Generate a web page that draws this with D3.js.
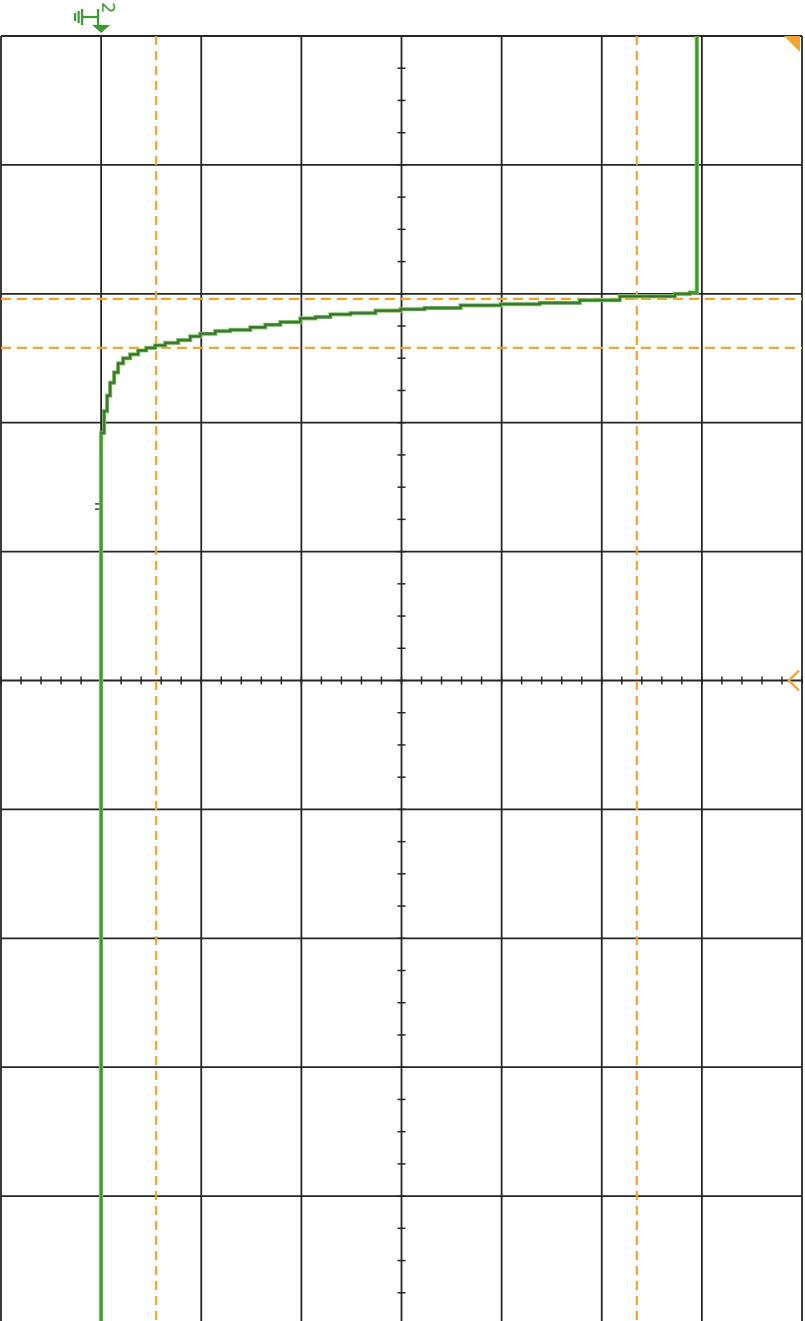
<!DOCTYPE html>
<html>
<head>
<meta charset="utf-8">
<script src="https://cdn.jsdelivr.net/npm/d3@7"></script>
<style>
  html, body { margin: 0; padding: 0; background: #fff; }
  svg { display: block; }
</style>
</head>
<body>
<svg id="scope" width="805" height="1321"></svg>
<script>
// Graticule: 8 horizontal divisions by 10 vertical divisions
const hDivs = d3.range(0, 9);
const vDivs = d3.range(0, 11);
// Minor ticks on the centre cross (in divisions)
const hMinor = d3.range(0, 8.001, 0.2);
const vMinor = d3.range(0, 10.001, 0.25);

// Channel 2 trace, [horizontal div, vertical div]
const traceX = [1.00, 1.00, 1.03, 1.06, 1.09, 1.13, 1.17, 1.22, 1.29, 1.37, 1.45, 1.54, 1.64, 1.77, 1.89, 1.99,
                2.14, 2.29, 2.49, 2.64, 2.79, 2.99, 3.14, 3.29, 3.49, 3.74, 3.99, 4.23, 4.59, 4.99, 5.38, 5.78,
                6.18, 6.53, 6.73, 6.88, 6.95, 6.95];
const traceY = [10.00, 3.08, 2.91, 2.79, 2.69, 2.61, 2.54, 2.50, 2.47, 2.44, 2.42, 2.40, 2.38, 2.36, 2.33, 2.31,
                2.29, 2.28, 2.26, 2.24, 2.22, 2.19, 2.18, 2.16, 2.15, 2.13, 2.12, 2.11, 2.09, 2.08, 2.07, 2.05,
                2.02, 2.02, 2.00, 1.99, 1.99, 0.00];

// Cursor positions (divisions)
const cursorsV = [1.55, 6.35];
const cursorsH = [2.04, 2.42];

// Channel marker
const channelLabel = "2";
const groundPos = 1.0;
const centreH = 4, centreV = 5;

const svg = d3.select("#scope");
const x = d3.scaleLinear().domain([0, 8]).range([1, 802]);
const y = d3.scaleLinear().domain([0, 10]).range([36, 1325]);

const gridColor = "#262626";
const orange = "#f2a330";
const green = "#3f9a36";

// grid lines
const grid = svg.append("g");
grid.selectAll("line.v").data(hDivs).join("line")
  .attr("x1", d => x(d)).attr("x2", d => x(d))
  .attr("y1", y(0)).attr("y2", y(10))
  .attr("stroke", gridColor).attr("stroke-width", 1.8);
grid.selectAll("line.h").data(vDivs).join("line")
  .attr("y1", d => y(d)).attr("y2", d => y(d))
  .attr("x1", x(0)).attr("x2", x(8))
  .attr("stroke", gridColor).attr("stroke-width", 1.8);

// minor ticks on centre axes
grid.selectAll("line.ht").data(hMinor).join("line")
  .attr("x1", d => x(d)).attr("x2", d => x(d))
  .attr("y1", y(centreV) - 4).attr("y2", y(centreV) + 4)
  .attr("stroke", gridColor).attr("stroke-width", 1.5);
grid.selectAll("line.vt").data(vMinor).join("line")
  .attr("y1", d => y(d)).attr("y2", d => y(d))
  .attr("x1", x(centreH) - 4).attr("x2", x(centreH) + 4)
  .attr("stroke", gridColor).attr("stroke-width", 1.5);

// cursors
const cur = svg.append("g");
cur.selectAll("line.cv").data(cursorsV).join("line")
  .attr("x1", d => x(d)).attr("x2", d => x(d))
  .attr("y1", y(0)).attr("y2", y(10))
  .attr("stroke", orange).attr("stroke-width", 2.2).attr("stroke-dasharray", "9,6");
cur.selectAll("line.ch").data(cursorsH).join("line")
  .attr("y1", d => y(d)).attr("y2", d => y(d))
  .attr("x1", x(0)).attr("x2", x(8))
  .attr("stroke", orange).attr("stroke-width", 2.2).attr("stroke-dasharray", "10,6");

// trace
const pts = traceX.map((v, i) => [v, traceY[i]]);
const line = d3.line().x(d => x(d[0])).y(d => y(d[1])).curve(d3.curveStepAfter);
svg.append("path").attr("d", line(pts)).attr("fill", "none")
  .attr("stroke", "#8fd060").attr("stroke-width", 4.2);
svg.append("path").attr("d", line(pts)).attr("fill", "none")
  .attr("stroke", green).attr("stroke-width", 2.8);
svg.append("path").attr("d", line(pts.slice(1, -2))).attr("fill", "none")
  .attr("stroke", "#4b5a48").attr("stroke-width", 1.2);

// small trigger mark next to the trace
svg.append("g").selectAll("line").data([3.63, 3.67]).join("line")
  .attr("x1", x(groundPos) - 6).attr("x2", x(groundPos) - 2)
  .attr("y1", d => y(d)).attr("y2", d => y(d))
  .attr("stroke", "#333").attr("stroke-width", 1.5);

// ground / channel marker above the graticule
const gx = x(groundPos);
const gridTop = y(0);
const mk = svg.append("g");
mk.append("path")
  .attr("d", `M${gx - 9},${gridTop - 11} L${gx + 9},${gridTop - 11} L${gx},${gridTop - 3} Z`)
  .attr("fill", green);
mk.append("line").attr("x1", gx - 3).attr("x2", gx - 3)
  .attr("y1", gridTop - 27).attr("y2", gridTop - 11)
  .attr("stroke", green).attr("stroke-width", 2.2);
mk.append("line").attr("x1", gx - 19).attr("x2", gx - 3)
  .attr("y1", gridTop - 19).attr("y2", gridTop - 19)
  .attr("stroke", green).attr("stroke-width", 2.2);
[[gx - 19, 8], [gx - 22.5, 6], [gx - 26, 4]].forEach(([lx, h]) => {
  mk.append("line").attr("x1", lx).attr("x2", lx)
    .attr("y1", gridTop - 19 - h).attr("y2", gridTop - 19 + h)
    .attr("stroke", green).attr("stroke-width", 2.2);
});
mk.append("text").text(channelLabel)
  .attr("transform", `translate(${gx + 1},${gridTop - 34}) rotate(90)`)
  .attr("font-family", "DejaVu Sans, sans-serif").attr("font-size", 18)
  .attr("fill", green);

// trigger level marker (top right) and horizontal position marker (right)
svg.append("path")
  .attr("d", `M${x(8) - 18},${gridTop} L${x(8) - 2},${gridTop} L${x(8) - 2},${gridTop + 16} Z`)
  .attr("fill", orange);
svg.append("path")
  .attr("d", `M${x(8) - 3},${y(centreV) - 10} L${x(8) - 13},${y(centreV)} L${x(8) - 3},${y(centreV) + 10}`)
  .attr("fill", "none").attr("stroke", orange).attr("stroke-width", 2.4);
</script>
</body>
</html>
